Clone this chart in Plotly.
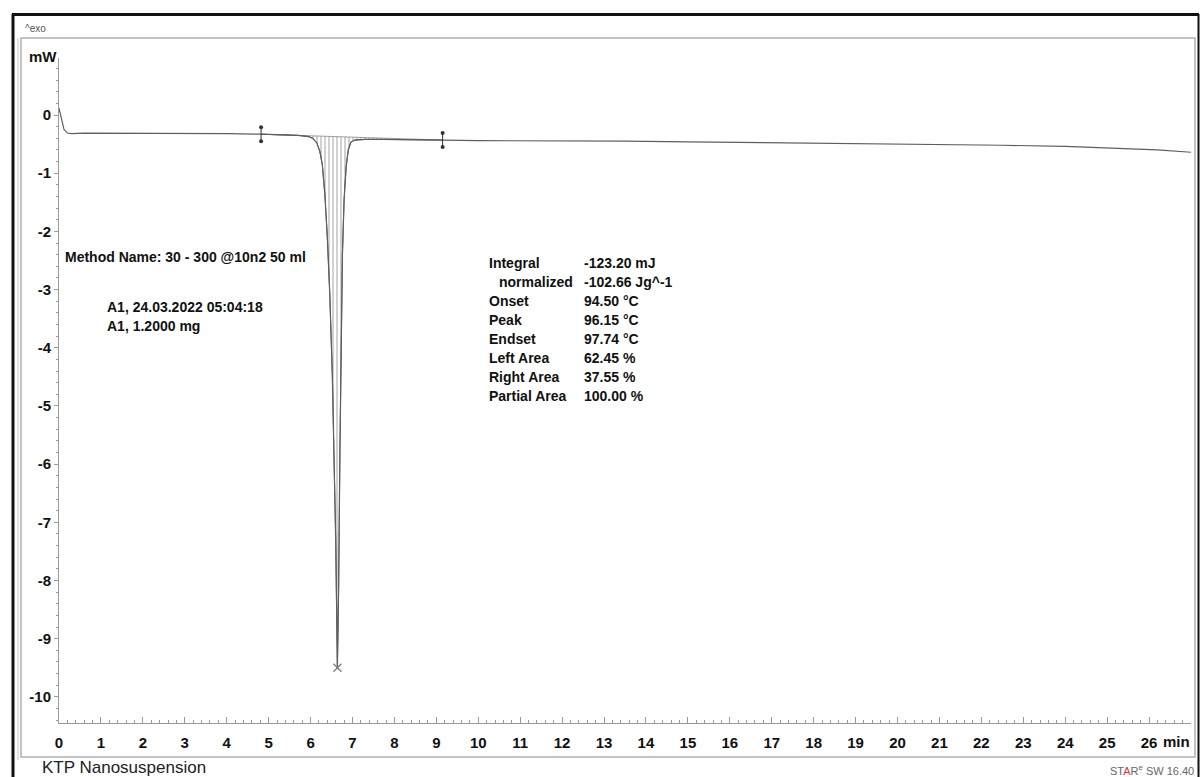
import plotly.graph_objects as go

# DSC thermogram: heat flow (mW) versus time (min)
time_min = [0.0, 0.05, 0.12, 0.2, 0.3, 0.6, 1.0, 2.0, 3.0, 4.0, 4.82, 5.3, 5.7,
            5.95, 6.05, 6.15, 6.22, 6.28, 6.34, 6.40, 6.46, 6.52, 6.56, 6.60,
            6.64, 6.67, 6.70, 6.73, 6.76, 6.80, 6.85, 6.90, 6.96, 7.05, 7.3,
            7.7, 8.2, 8.7, 9.15, 10.0, 11.0, 12.0, 13.5, 15.0, 16.5, 18.0,
            19.5, 21.0, 22.5, 24.0, 25.3, 26.2, 27.0]
heat_flow_mw = [0.12, -0.02, -0.25, -0.31, -0.32, -0.31, -0.31, -0.31, -0.31,
                -0.32, -0.33, -0.34, -0.35, -0.37, -0.40, -0.48, -0.62, -0.85,
                -1.35, -2.1, -3.1, -4.5, -5.7, -7.3, -9.50, -8.1, -5.8, -3.8,
                -2.4, -1.45, -0.88, -0.60, -0.47, -0.43, -0.42, -0.42, -0.42,
                -0.43, -0.43, -0.44, -0.44, -0.45, -0.45, -0.46, -0.47, -0.48,
                -0.49, -0.51, -0.52, -0.54, -0.57, -0.60, -0.64]

# integration limits (min) and their baseline values (mW)
limit_t = [4.82, 9.15]
limit_mw = [-0.33, -0.43]
peak_t = [6.64]
peak_mw = [-9.50]

x_ticks = list(range(0, 27))
y_ticks = list(range(-10, 1))

result_labels = ["Integral", "  normalized", "Onset", "Peak", "Endset",
                 "Left Area", "Right Area", "Partial Area"]
result_values = ["-123.20 mJ", "-102.66 Jg^-1", "94.50 °C", "96.15 °C",
                 "97.74 °C", "62.45 %", "37.55 %", "100.00 %"]

W, H = 1200, 777
L, R, T, B = 59, 9, 58, 54
PW, PH = W - L - R, H - T - B
FONT = "Liberation Sans, Arial, sans-serif"
CURVE = "#5e5e5e"
AXIS = "#9a9a9a"


def px(x):
    return (x - L) / PW


def py(y):
    return (H - B - y) / PH


fig = go.Figure()

# integration baseline
fig.add_trace(go.Scatter(x=limit_t, y=limit_mw, mode="lines",
                         line=dict(color="#888", width=0.8),
                         hoverinfo="skip", showlegend=False))

# hatched peak area between baseline and the curve
seg = [(t, v) for t, v in zip(time_min, heat_flow_mw) if limit_t[0] <= t <= limit_t[1]]
fig.add_trace(go.Scatter(x=[s[0] for s in seg], y=[s[1] for s in seg],
                         mode="lines", line=dict(color=CURVE, width=1),
                         fill="tonexty", fillcolor="rgba(0,0,0,0)",
                         fillpattern=dict(shape="|", size=4, solidity=0.3,
                                          fgcolor="#666666",
                                          bgcolor="rgba(0,0,0,0)"),
                         hoverinfo="skip", showlegend=False))

# full curve
fig.add_trace(go.Scatter(x=time_min, y=heat_flow_mw, mode="lines",
                         line=dict(color=CURVE, width=1.2),
                         showlegend=False))

# integration limit markers
for t, v in zip(limit_t, limit_mw):
    fig.add_trace(go.Scatter(x=[t, t], y=[v + 0.12, v - 0.12],
                             mode="lines+markers",
                             line=dict(color="#333", width=1),
                             marker=dict(color="#333", size=4),
                             hoverinfo="skip", showlegend=False))

# peak marker
fig.add_trace(go.Scatter(x=peak_t, y=peak_mw, mode="markers",
                         marker=dict(symbol="x-thin", size=8,
                                     line=dict(color="#777", width=1.2)),
                         showlegend=False))

tick_font = dict(family=FONT, size=15, color="#111", weight="bold")
fig.update_xaxes(range=[0, 27.0], tickvals=x_ticks,
                 ticktext=[str(v) for v in x_ticks],
                 ticks="inside", ticklen=6, tickcolor=AXIS, tickwidth=1,
                 minor=dict(ticks="inside", ticklen=3, dtick=0.2, tick0=0,
                            tickcolor=AXIS),
                 showline=True, linecolor=AXIS, linewidth=1,
                 showgrid=False, zeroline=False,
                 tickfont=tick_font, ticklabelstandoff=6)
fig.update_yaxes(range=[-10.45, 0.98], tickvals=y_ticks,
                 ticktext=[str(v) for v in y_ticks],
                 ticks="outside", ticklen=4, tickcolor=AXIS, tickwidth=1,
                 minor=dict(ticks="outside", ticklen=2, dtick=0.2, tick0=0,
                            tickcolor=AXIS),
                 showline=True, linecolor=AXIS, linewidth=1,
                 showgrid=False, zeroline=False,
                 tickfont=tick_font)

shapes = [
    # outer black frame
    dict(type="line", x0=px(12), x1=px(1199), y0=py(14.5), y1=py(14.5),
         line=dict(color="#111", width=3)),
    dict(type="line", x0=px(13), x1=px(13), y0=py(14), y1=py(777),
         line=dict(color="#111", width=3)),
    dict(type="line", x0=px(1198.5), x1=px(1198.5), y0=py(14), y1=py(777),
         line=dict(color="#111", width=2)),
    # inner grey frame
    dict(type="rect", x0=px(21), x1=px(1195), y0=py(38), y1=py(757),
         line=dict(color="#b0b0b0", width=1.5)),
    dict(type="line", x0=px(18), x1=px(18), y0=py(38), y1=py(760),
         line=dict(color="#c8c8c8", width=1)),
]
for s in shapes:
    s.update(xref="paper", yref="paper", layer="above")

ann = []


def text(x, y, s, size=14, color="#111", anchor="left", weight="bold"):
    ann.append(dict(x=px(x), y=py(y), xref="paper", yref="paper", text=s,
                    showarrow=False, xanchor=anchor, yanchor="middle",
                    font=dict(family=FONT, size=size, color=color,
                              weight=weight)))


text(23, 29, "^exo", size=10, color="#555", weight="normal")
text(27, 57, "mW", size=15)
text(1161, 742, "min", size=15)
text(63, 257, "Method Name: 30 - 300 @10n2 50 ml")
text(105, 307, "A1, 24.03.2022 05:04:18")
text(105, 326, "A1, 1.2000 mg")
for i, (lab, val) in enumerate(zip(result_labels, result_values)):
    y = 263 + 19 * i
    lab_x = 497 if lab.startswith(" ") else 487
    text(lab_x, y, lab.strip())
    text(582, y, val)
text(40, 767, "KTP Nanosuspension", size=17, color="#222", weight="normal")
text(1196, 770, "ST<span style='color:#d33'>A</span>R<sup>e</sup> SW 16.40",
     size=11, color="#666", anchor="right", weight="normal")

fig.update_layout(width=W, height=H,
                  margin=dict(l=L, r=R, t=T, b=B, pad=0),
                  paper_bgcolor="white", plot_bgcolor="white",
                  shapes=shapes, annotations=ann, showlegend=False)

fig.write_html("out.html")
